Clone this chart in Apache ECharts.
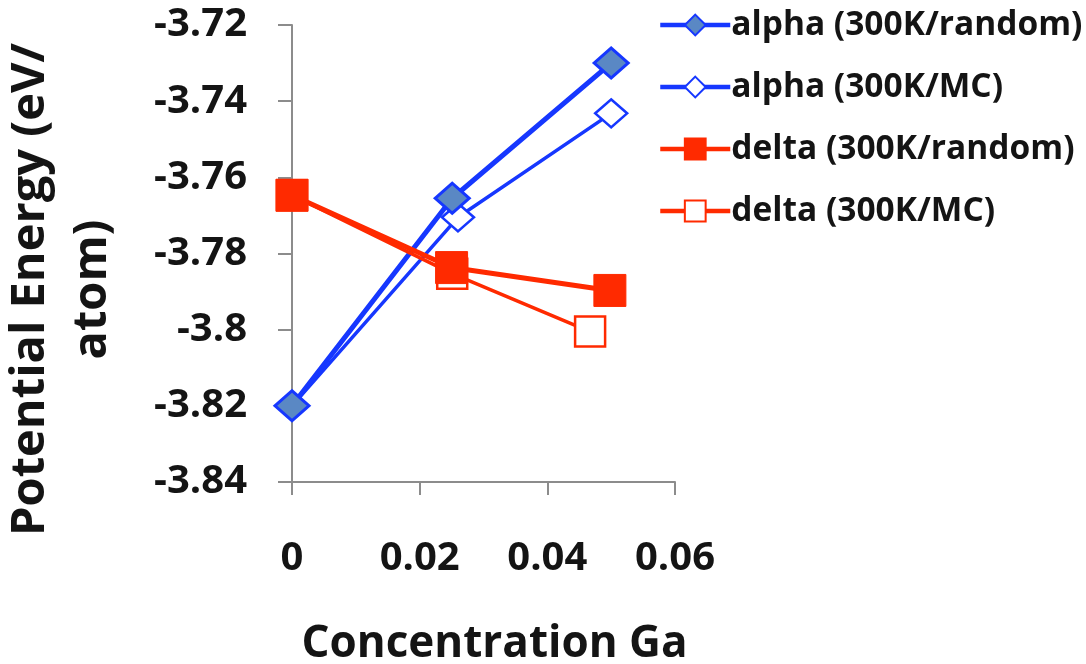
<!DOCTYPE html>
<html>
<head>
<meta charset="utf-8">
<title>Potential Energy vs Ga Concentration</title>
<script src="https://cdn.jsdelivr.net/npm/echarts@6/dist/echarts.min.js"></script>
<style>
  html, body { margin: 0; padding: 0; background: #ffffff; }
  #chart { width: 1086px; height: 664px; }
</style>
</head>
<body>
<div id="chart"></div>
<script>
// Series names (legend order)
const seriesNames = [
  'alpha (300K/random)',
  'alpha (300K/MC)',
  'delta (300K/random)',
  'delta (300K/MC)'
];

// Ga concentration (x) and potential energy in eV/atom (y) per series
const alphaRandomX = [0, 0.0251, 0.0500];
const alphaRandomY = [-3.820, -3.7655, -3.730];

const alphaMcX = [0, 0.0260, 0.0500];
const alphaMcY = [-3.820, -3.7705, -3.7432];

const deltaRandomX = [0, 0.0250, 0.0498];
const deltaRandomY = [-3.7647, -3.7837, -3.7897];

const deltaMcX = [0, 0.0251, 0.0467];
const deltaMcY = [-3.7647, -3.7853, -3.8005];

// Axis ranges and titles
const xTitle = 'Concentration Ga';
const yTitle = 'Potential Energy (eV/\natom)';
const xMin = 0, xMax = 0.06, xStep = 0.02;
const yMin = -3.84, yMax = -3.72, yStep = 0.02;

const pairs = (xs, ys) => xs.map((x, i) => [x, ys[i]]);

const BLUE = '#1637ff';
const STEEL = '#5a88c4';
const RED = '#ff2a00';
const AXIS = '#8c8c8c';
const TEXT = '#141414';
const FONT = '"Open Sans", "DejaVu Sans", sans-serif';

const chart = echarts.init(document.getElementById('chart'), null, { renderer: 'canvas' });

chart.setOption({
  backgroundColor: '#ffffff',
  animation: false,
  textStyle: { fontFamily: FONT, color: TEXT },
  grid: {
    left: 292, top: 25, right: 411, bottom: 182,
    containLabel: false, outerBoundsMode: 'none'
  },
  legend: {
    orient: 'vertical',
    left: 653,
    top: 2,
    itemWidth: 70,
    itemHeight: 26,
    itemGap: 26,
    data: seriesNames,
    lineStyle: { width: 4.5 },
    textStyle: {
      fontFamily: FONT, fontSize: 33.5, fontWeight: 'bold',
      color: TEXT, lineHeight: 36, padding: [0, 0, 0, -4]
    }
  },
  xAxis: {
    type: 'value',
    min: xMin, max: xMax, interval: xStep,
    name: xTitle,
    nameLocation: 'middle',
    nameGap: 140,
    nameTextStyle: {
      fontFamily: FONT, fontSize: 44, fontWeight: 'bold', color: TEXT,
      padding: [0, 0, 0, 22]
    },
    axisLine: { onZero: false, lineStyle: { color: AXIS, width: 2 } },
    axisTick: { show: true, inside: false, length: 13, lineStyle: { color: AXIS, width: 2 } },
    axisLabel: {
      margin: 57, fontFamily: FONT, fontSize: 40, fontWeight: 'bold', color: TEXT
    },
    splitLine: { show: false }
  },
  yAxis: {
    type: 'value',
    min: yMin, max: yMax, interval: yStep,
    name: yTitle,
    nameLocation: 'middle',
    nameRotate: 90,
    nameGap: 168,
    nameTextStyle: {
      fontFamily: FONT, fontSize: 47, fontWeight: 'bold', color: TEXT,
      align: 'center', lineHeight: 62, padding: [0, 72, 0, 0]
    },
    axisLine: { show: true, onZero: false, lineStyle: { color: AXIS, width: 2 } },
    axisTick: { show: true, inside: false, length: 14, lineStyle: { color: AXIS, width: 2 } },
    axisLabel: {
      margin: 45, fontFamily: FONT, fontSize: 40, fontWeight: 'bold', color: TEXT,
      padding: [12, 0, 0, 0]
    },
    splitLine: { show: false }
  },
  series: [
    {
      name: seriesNames[0],
      type: 'line',
      z: 3,
      data: pairs(alphaRandomX, alphaRandomY),
      symbol: 'diamond',
      symbolSize: [34, 30],
      lineStyle: { color: BLUE, width: 5 },
      itemStyle: { color: STEEL, borderColor: BLUE, borderWidth: 3 }
    },
    {
      name: seriesNames[1],
      type: 'line',
      z: 2,
      data: pairs(alphaMcX, alphaMcY),
      symbol: 'diamond',
      symbolSize: [32, 28],
      lineStyle: { color: BLUE, width: 3.5 },
      itemStyle: { color: '#ffffff', borderColor: BLUE, borderWidth: 2.5 }
    },
    {
      name: seriesNames[2],
      type: 'line',
      z: 5,
      data: pairs(deltaRandomX, deltaRandomY),
      symbol: 'rect',
      symbolSize: 32,
      lineStyle: { color: RED, width: 5 },
      itemStyle: { color: RED, borderColor: RED, borderWidth: 1 }
    },
    {
      name: seriesNames[3],
      type: 'line',
      z: 4,
      data: pairs(deltaMcX, deltaMcY),
      symbol: 'rect',
      symbolSize: 30,
      lineStyle: { color: RED, width: 3.5 },
      itemStyle: { color: '#ffffff', borderColor: RED, borderWidth: 2.5 }
    }
  ]
});
</script>
</body>
</html>
